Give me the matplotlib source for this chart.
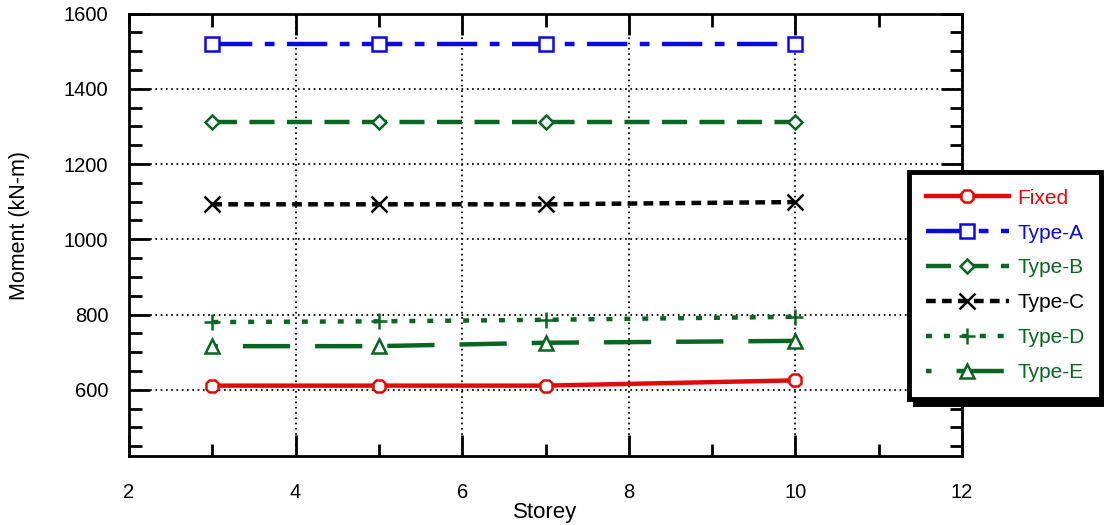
import matplotlib
matplotlib.use("Agg")
import matplotlib.pyplot as plt
from matplotlib.ticker import MultipleLocator

plt.rcParams['font.family'] = ['Liberation Sans', 'DejaVu Sans']
plt.rcParams['lines.scale_dashes'] = False

storey = [3, 5, 7, 10]
fixed = [611, 611, 611, 625]
type_a = [1520, 1520, 1520, 1520]
type_b = [1312, 1312, 1312, 1312]
type_c = [1093, 1093, 1093, 1099]
type_d = [780, 782, 786, 794]
type_e = [716, 716, 725, 730]

labels = ["Fixed", "Type-A", "Type-B", "Type-C", "Type-D", "Type-E"]
red = '#e00a0a'
blue = '#0a0ae0'
green = '#0a6422'
black = '#000000'

fig = plt.figure(figsize=(11.04, 5.25), dpi=100)
ax = fig.add_axes([129/1104, 1-455.6/525, (962-129)/1104, (455.6-13.6)/525])

series = [
    (fixed, red, '-', '8'),
    (type_a, blue, (0, (29, 9, 7, 9)), 's'),
    (type_b, green, (0, (18, 9)), 'D'),
    (type_c, black, (0, (7, 4.5)), 'x'),
    (type_d, green, (0, (4.3, 8.6)), '+'),
    (type_e, green, (30, (34, 18)), '^'),
]
msizes = [10, 10, 7.5, 11, 12, 10]
handles = []
for (vals, c, ls, m), lab, ms in zip(series, labels, msizes):
    h, = ax.plot(storey, vals, color=c, linestyle=ls, linewidth=3.2,
                 marker=m, markersize=ms, markerfacecolor='white' if m not in ('x', '+') else c,
                 markeredgecolor=c, markeredgewidth=1.8, label=lab, zorder=3)
    handles.append(h)

ax.set_xlim(2, 12)
ax.set_ylim(425, 1600)
ax.xaxis.set_major_locator(MultipleLocator(2))
ax.xaxis.set_minor_locator(MultipleLocator(1))
ax.yaxis.set_major_locator(MultipleLocator(200))
ax.yaxis.set_minor_locator(MultipleLocator(50))
ax.tick_params(which='both', direction='in', top=True, right=True, width=2)
ax.tick_params(which='major', length=15, labelsize=14.5)
ax.tick_params(axis='x', which='major', pad=20)
ax.tick_params(axis='y', which='major', pad=15)
ax.tick_params(which='minor', length=9)
for s in ax.spines.values():
    s.set_linewidth(2)
ax.grid(True, which='major', color='black', linestyle=(0, (1.2, 2.6)), linewidth=1.3)
ax.set_axisbelow(True)

ax.set_xlabel("Storey", fontsize=16, labelpad=0)
ax.set_ylabel("Moment (kN-m)", fontsize=15.5)
ax.yaxis.set_label_coords(-0.119, 0.52)

leg = fig.legend(handles=handles, labels=labels, loc='upper left',
                 bbox_to_anchor=(909/1104, 1-172/525), fontsize=15,
                 handlelength=4.0, handletextpad=0.4, labelspacing=0.76,
                 borderpad=0.8, borderaxespad=0, fancybox=False, framealpha=1,
                 edgecolor='black', shadow={'color': 'black', 'alpha': 1, 'ox': 4, 'oy': -4})
leg.get_frame().set_linewidth(3.5)
for t, (vals, c, ls, m) in zip(leg.get_texts(), series):
    t.set_color(c)

fig.savefig("out.png", dpi=100)
